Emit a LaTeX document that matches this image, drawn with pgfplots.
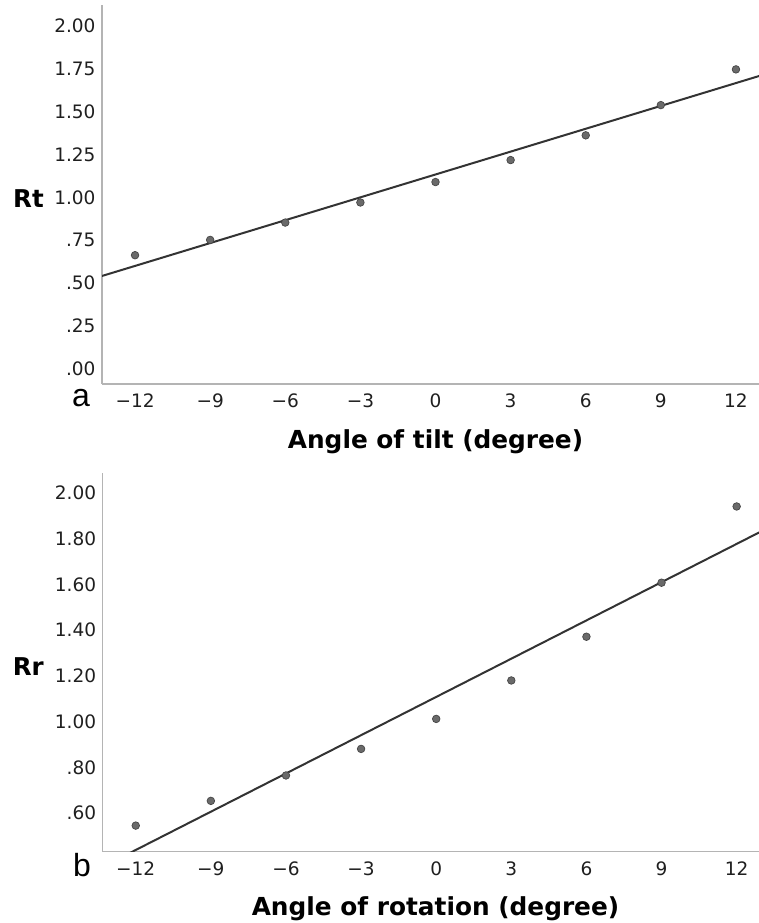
\documentclass[border=0pt]{standalone}
\usepackage{pgfplots}
\pgfplotsset{compat=1.18}
\usepackage{fontspec}
\setmainfont{DejaVu Sans}
\newfontfamily\arialfont{Liberation Sans}
\definecolor{axisgray}{HTML}{B4B4B4}
\definecolor{dotfill}{HTML}{6A6A6A}
\definecolor{dotedge}{HTML}{454545}
\definecolor{fitline}{HTML}{333333}
\begin{document}
\begin{tikzpicture}
\useasboundingbox (0pt,0pt) rectangle (758pt,923pt);
\pgfplotsset{
  myaxis/.style={
    scale only axis, width=667pt, height=379pt,
    xmin=-13.32, xmax=13.32,
    axis x line*=bottom, axis y line*=left,
    axis line style={draw=axisgray, line width=1.3pt, -},
    major tick length=0pt,
    xtick={-12,-9,-6,-3,0,3,6,9,12},
    xticklabels={−12,−9,−6,−3,0,3,6,9,12},
    tick label style={font=\fontsize{18.5}{21}\selectfont, text=black!88},
    xticklabel style={anchor=base, yshift=-24pt},
    yticklabel style={anchor=east, xshift=-3pt},
  },
  dots/.style={only marks, mark=*, mark size=3.8pt,
    mark options={fill=dotfill, draw=dotedge, line width=0.7pt}},
  fit/.style={no marks, draw=fitline, line width=2pt},
}
% ---------- panel a ----------
\begin{axis}[myaxis, at={(102pt,539pt)}, anchor=south west,
  ymin=-0.087, ymax=2.12,
  ytick={0,0.25,0.5,0.75,1,1.25,1.5,1.75,2},
  yticklabels={.00,.25,.50,.75,1.00,1.25,1.50,1.75,2.00}]
\addplot[fit] coordinates {(-13.32,0.542) (13.32,1.724)};
\addplot[dots] coordinates {
  (-12,0.663) (-9,0.752) (-6,0.853) (-3,0.970) (0,1.089)
  (3,1.217) (6,1.361) (9,1.537) (12,1.745)};
\end{axis}
% ---------- panel b ----------
\begin{axis}[myaxis, at={(102.7pt,71.3pt)}, anchor=south west,
  ymin=0.432, ymax=2.0875,
  ytick={0.6,0.8,1.0,1.2,1.4,1.6,1.8,2.0},
  yticklabels={.60,.80,1.00,1.20,1.40,1.60,1.80,2.00}]
\addplot[fit] coordinates {(-13.32,0.366) (13.32,1.850)};
\addplot[dots] coordinates {
  (-12,0.546) (-9,0.654) (-6,0.765) (-3,0.881) (0,1.012)
  (3,1.180) (6,1.371) (9,1.607) (12,1.940)};
\end{axis}
% ---------- labels ----------
\node[anchor=east, inner sep=0pt, font=\bfseries\fontsize{24.5}{28}\selectfont] at (44pt,724pt) {Rt};
\node[anchor=east, inner sep=0pt, font=\bfseries\fontsize{24.5}{28}\selectfont] at (44pt,256pt) {Rr};
\node[anchor=base, inner sep=0pt, font=\bfseries\fontsize{24.8}{28}\selectfont] at (435.5pt,474pt) {Angle of tilt (degree)};
\node[anchor=base, inner sep=0pt, font=\bfseries\fontsize{24.8}{28}\selectfont] at (435.5pt,8pt) {Angle of rotation (degree)};
\node[anchor=base west, inner sep=0pt, font=\arialfont\fontsize{32}{36}\selectfont] at (72pt,516pt) {a};
\node[anchor=base west, inner sep=0pt, font=\arialfont\fontsize{32}{36}\selectfont] at (73pt,46pt) {b};
\end{tikzpicture}
\end{document}
